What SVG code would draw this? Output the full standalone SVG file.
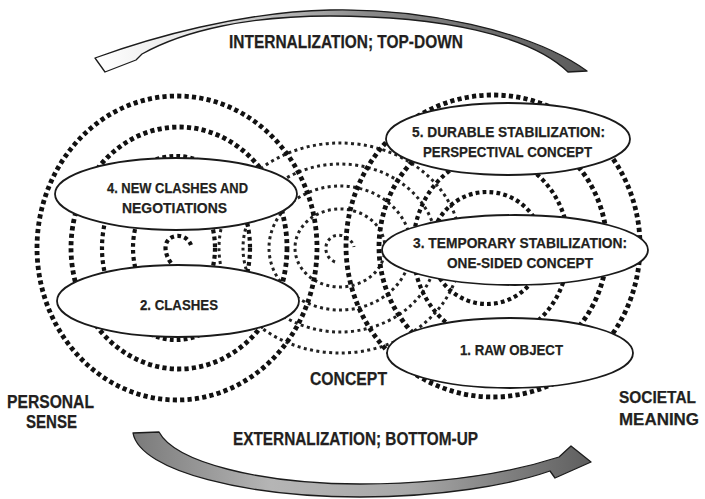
<svg xmlns="http://www.w3.org/2000/svg" width="705" height="499" viewBox="0 0 705 499">
  <defs>
    <linearGradient id="gradTop" x1="95" y1="0" x2="590" y2="0" gradientUnits="userSpaceOnUse">
      <stop offset="0" stop-color="#ffffff"/>
      <stop offset="0.2" stop-color="#e6e6e6"/>
      <stop offset="0.55" stop-color="#8a8a8a"/>
      <stop offset="1" stop-color="#5a5a5a"/>
    </linearGradient>
    <linearGradient id="gradBottom" x1="133" y1="0" x2="592" y2="0" gradientUnits="userSpaceOnUse">
      <stop offset="0" stop-color="#7a7a7a"/>
      <stop offset="0.3" stop-color="#b5b5b5"/>
      <stop offset="0.6" stop-color="#a8a8a8"/>
      <stop offset="1" stop-color="#5e5e5e"/>
    </linearGradient>
    <style>
      .ring { fill: none; stroke: #111; stroke-width: 4.8; stroke-dasharray: 4.2 3.2; }
      .ring-s { fill: none; stroke: #111; stroke-width: 4.2; stroke-dasharray: 3.8 3.2; }
      .ring-t { fill: none; stroke: #222; stroke-width: 3; stroke-dasharray: 3 3.4; }
      .node { fill: #fff; stroke: #1a1a1a; stroke-width: 1.8; }
      .lbl { font-family: "Liberation Sans", Arial, sans-serif; font-weight: bold; fill: #231f20; stroke: #231f20; stroke-width: 0.25; }
      .in { font-size: 15.5px; }
      .big { font-size: 18.5px; }
      .side { font-size: 17px; }
      .arrow { stroke: #1c1c1c; stroke-width: 1.3; stroke-linejoin: round; }
    </style>
  </defs>

  <rect width="705" height="499" fill="#fff"/>

  <!-- concept rings (small dots, centre) -->
  <g id="concept-rings">
    <ellipse class="ring-t" cx="340" cy="248" rx="121" ry="105"/>
    <ellipse class="ring-t" cx="340" cy="248" rx="97" ry="84"/>
    <ellipse class="ring-t" cx="340" cy="248" rx="71" ry="62"/>
    <ellipse class="ring-t" cx="340" cy="248" rx="45" ry="39"/>
    <path class="ring-t" d="M335,262 C325,258 322,244 332,237 C340,232 352,238 354,247"/>
  </g>

  <!-- personal sense rings (left) -->
  <g id="personal-rings">
    <ellipse class="ring" cx="177" cy="248" rx="140" ry="152"/>
    <ellipse class="ring" cx="179" cy="248" rx="108" ry="121"/>
    <ellipse class="ring-s" cx="176" cy="248" rx="74" ry="92"/>
    <ellipse class="ring-s" cx="174" cy="248" rx="41" ry="60"/>
    <path class="ring-s" d="M171,263 C163,252 163,238 176,236 C184,235 189,240 191,245"/>
  </g>

  <!-- societal meaning rings (right) -->
  <g id="societal-rings">
    <ellipse class="ring" cx="493" cy="246" rx="147" ry="151"/>
    <ellipse class="ring" cx="493" cy="247" rx="114" ry="121"/>
    <ellipse class="ring-s" cx="491" cy="248" rx="78" ry="91"/>
    <ellipse class="ring-s" cx="487" cy="248" rx="56" ry="56"/>
  </g>

  <!-- curved process arrows -->
  <g id="connectors">
    <path class="arrow" fill="url(#gradTop)" d="M95,58 C150,38 240,12 330,10 C420,8 530,30 587,71 L568,72 C530,35 440,16 330,16 C250,16 185,30 142,54 L136,60 L105,72 Z"/>
    <path class="arrow" fill="url(#gradBottom)" d="M133,433 L159,432 C175,462 260,484 360,484 C430,484 500,476 559,457 L571,446 L591,462 L555,478 L550,471 C510,485 440,497 360,497 C250,497 140,472 133,433 Z"/>
  </g>

  <!-- stage ellipses -->
  <g id="node-4">
    <ellipse class="node" cx="176" cy="194" rx="121" ry="36"/>
    <text class="lbl in" x="107" y="193" textLength="141" lengthAdjust="spacingAndGlyphs">4. NEW CLASHES AND</text>
    <text class="lbl in" x="122" y="213" textLength="105" lengthAdjust="spacingAndGlyphs">NEGOTIATIONS</text>
  </g>
  <g id="node-2">
    <ellipse class="node" cx="178" cy="301" rx="121" ry="36"/>
    <text class="lbl in" x="140" y="310" textLength="78" lengthAdjust="spacingAndGlyphs">2. CLASHES</text>
  </g>
  <g id="node-5">
    <ellipse class="node" cx="508" cy="139" rx="122" ry="36"/>
    <text class="lbl in" x="412" y="137" textLength="193" lengthAdjust="spacingAndGlyphs">5. DURABLE STABILIZATION:</text>
    <text class="lbl in" x="423" y="157" textLength="169" lengthAdjust="spacingAndGlyphs">PERSPECTIVAL CONCEPT</text>
  </g>
  <g id="node-3">
    <ellipse class="node" cx="515" cy="250" rx="133" ry="35"/>
    <text class="lbl in" x="413" y="248" textLength="214" lengthAdjust="spacingAndGlyphs">3. TEMPORARY STABILIZATION:</text>
    <text class="lbl in" x="447" y="268" textLength="146" lengthAdjust="spacingAndGlyphs">ONE-SIDED CONCEPT</text>
  </g>
  <g id="node-1">
    <ellipse class="node" cx="510" cy="353" rx="123" ry="35"/>
    <text class="lbl in" x="460" y="355" textLength="103" lengthAdjust="spacingAndGlyphs">1. RAW OBJECT</text>
  </g>

  <!-- free labels -->
  <g id="labels">
    <text class="lbl big" x="229" y="48" textLength="234" lengthAdjust="spacingAndGlyphs">INTERNALIZATION; TOP-DOWN</text>
    <text class="lbl big" x="233" y="445" textLength="245" lengthAdjust="spacingAndGlyphs">EXTERNALIZATION; BOTTOM-UP</text>
    <text class="lbl big" x="310" y="385" textLength="77" lengthAdjust="spacingAndGlyphs">CONCEPT</text>
    <text class="lbl big" x="7" y="408" textLength="87" lengthAdjust="spacingAndGlyphs">PERSONAL</text>
    <text class="lbl big" x="26" y="428" textLength="51" lengthAdjust="spacingAndGlyphs">SENSE</text>
    <text class="lbl side" x="619" y="403" textLength="77" lengthAdjust="spacingAndGlyphs">SOCIETAL</text>
    <text class="lbl side" x="619" y="425" textLength="80" lengthAdjust="spacingAndGlyphs">MEANING</text>
  </g>
</svg>
